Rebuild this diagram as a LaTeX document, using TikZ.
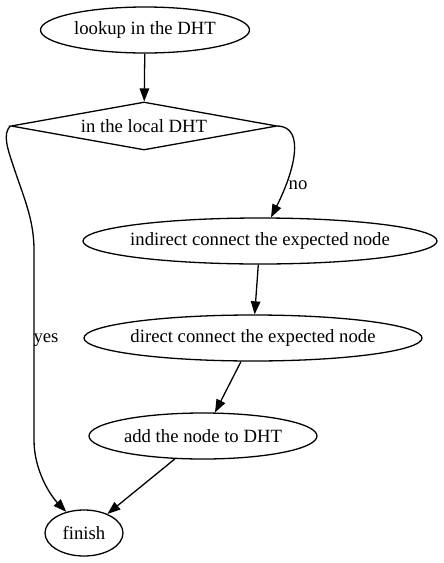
\documentclass[tikz,border=0pt]{standalone}
\usepackage{fontspec}
\setmainfont{Liberation Serif}
\usetikzlibrary{shapes.geometric,arrows.meta}
\newcommand{\ztxt}[1]{\makebox[0pt]{#1}}
\begin{document}
\begin{tikzpicture}[x=1pt,y=1pt,
  every node/.style={font=\fontsize{18.7}{22}\selectfont},
  ell/.style={draw, ellipse, line width=1.3pt, inner sep=0pt},
  dec/.style={draw, diamond, aspect=5.54, line width=1.3pt, inner sep=0pt, minimum width=266pt, minimum height=48pt},
  edge/.style={line width=1.3pt, -{Triangle[length=13pt,width=9.5pt]}},
  lbl/.style={inner sep=0pt}]
\useasboundingbox (0,0) rectangle (444,-563);
\node[ell, minimum width=209pt, minimum height=46pt] (look) at (145,-30) {\ztxt{lookup in the DHT}};
\node[dec] (dia) at (144,-126) {\ztxt{in the local DHT}};
\node[ell, minimum width=354pt, minimum height=46pt] (ind) at (260,-241) {\ztxt{indirect connect the expected node}};
\node[ell, minimum width=338pt, minimum height=46pt] (dir) at (253,-338) {\ztxt{direct connect the expected node}};
\node[ell, minimum width=228pt, minimum height=46pt] (add) at (203,-436) {\ztxt{add the node to DHT}};
\node[ell, minimum width=78pt, minimum height=46pt] (fin) at (84,-533) {\ztxt{finish}};
\draw[edge] (look) -- (dia);
\draw[edge] (dia.east) .. controls (306,-127) and (294,-172) .. (ind.65);
\node[lbl] (no) at (298,-185) {no};
\draw[edge] (dia.west) .. controls (2,-134) and (8,-150) .. (14,-168)
  .. controls (24,-198) and (34,-220) .. (34,-250) -- (34,-440)
  .. controls (34,-470) and (50,-495) .. (fin.130);
\node[lbl] (yes) at (46,-340) {yes};
\draw[edge] (ind) -- (dir);
\draw[edge] (dir) -- (add);
\draw[edge] (add) -- (fin);
\end{tikzpicture}
\end{document}
